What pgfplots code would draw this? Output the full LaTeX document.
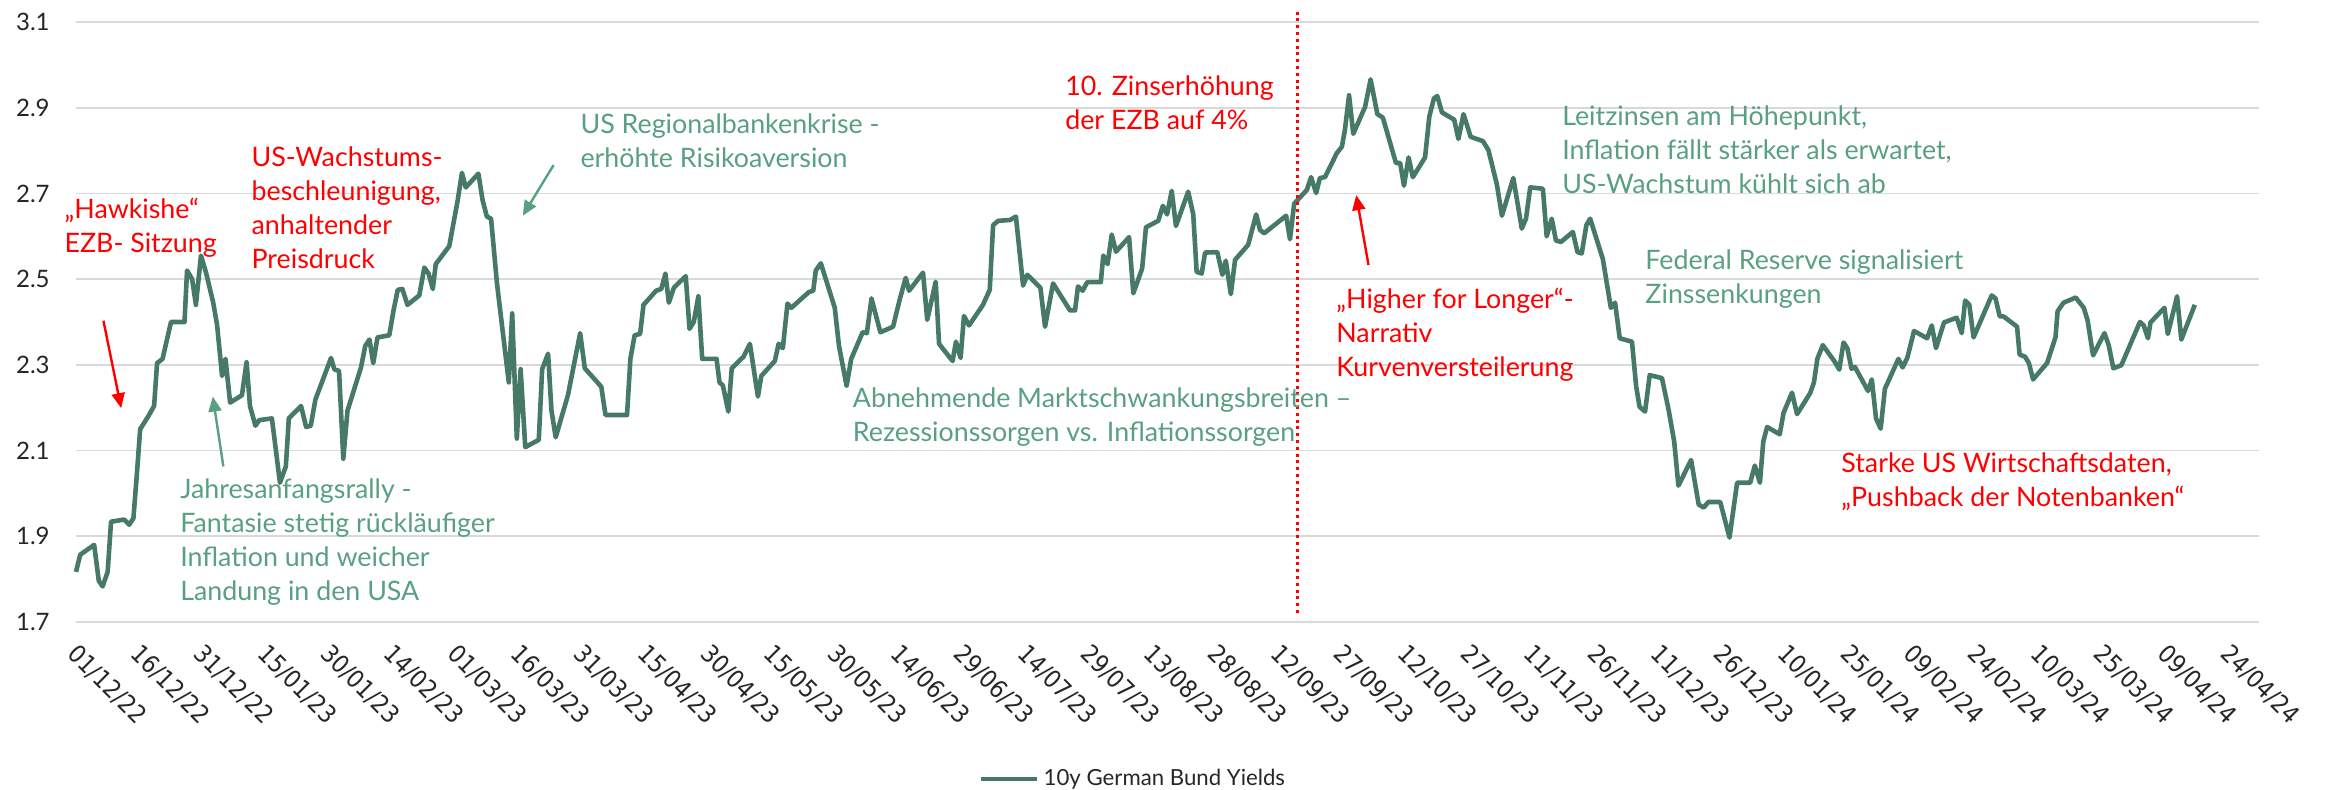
\documentclass[border=0pt]{standalone}
\usepackage{fontspec}
\setmainfont{Lato}
\newfontfamily\tickfont{DejaVu Sans Condensed}
\usepackage{pgfplots}
\pgfplotsset{compat=1.18}
\usetikzlibrary{arrows.meta}
\definecolor{linegreen}{RGB}{70,122,102}
\definecolor{anngreen}{RGB}{88,160,128}
\definecolor{annred}{RGB}{255,0,0}
\definecolor{gridgray}{RGB}{217,217,217}
\definecolor{labelgray}{RGB}{38,38,38}
\newcommand\annfont{\fontsize{13.4}{17}\selectfont}
\begin{document}
\begin{tikzpicture}
\path[use as bounding box] (-38pt,-84pt) rectangle (1127pt,311pt);
\begin{axis}[
  scale only axis, width=1091.5pt, height=300pt,
  xmin=0, xmax=517, ymin=1.7, ymax=3.1,
  clip=false,
  axis line style={draw=none},
  major tick length=0pt,
  ymajorgrids, major grid style={draw=gridgray, line width=0.8pt},
  ytick={1.7,1.9,2.1,2.3,2.5,2.7,2.9,3.1},
  /pgf/number format/assume math mode=true,
  yticklabel style={font=\fontsize{12}{14}\selectfont, text=labelgray, anchor=east, inner sep=0pt, xshift=-13pt,
    /pgf/number format/fixed, /pgf/number format/precision=1, /pgf/number format/fixed zerofill},
  xtick={0,15,...,510},
  xticklabels={01/12/22,16/12/22,31/12/22,15/01/23,30/01/23,14/02/23,01/03/23,16/03/23,31/03/23,15/04/23,30/04/23,15/05/23,30/05/23,14/06/23,29/06/23,14/07/23,29/07/23,13/08/23,28/08/23,12/09/23,27/09/23,12/10/23,27/10/23,11/11/23,26/11/23,11/12/23,26/12/23,10/01/24,25/01/24,09/02/24,24/02/24,10/03/24,25/03/24,09/04/24,24/04/24},
  xticklabel style={font=\tickfont\fontsize{12.3}{14}\selectfont, text=labelgray, inner sep=0pt, xshift=1.5pt, yshift=-10pt, rotate=-45, anchor=north west},
  legend style={at={(0.4847,-0.262)}, anchor=center, draw=none, fill=none, font=\fontsize{11.1}{13}\selectfont, text=labelgray},
  legend image code/.code={\draw[#1] (0pt,0pt) -- (28pt,0pt);},
]
\addplot[color=linegreen, line width=2.3pt, line join=round] coordinates {
(0,1.817) (1,1.857) (4.3,1.880) (5.4,1.796) (6.3,1.783) (7.5,1.817) (8.3,1.934) (11.4,1.939) (12.6,1.927) (13.6,1.942)
(14.4,2.043) (15.2,2.150) (17,2.178) (18.5,2.204) (19.2,2.304) (20.5,2.314) (22.5,2.400) (25.7,2.400) (26.3,2.520) (27.5,2.500)
(28.4,2.440) (29.6,2.555) (30.8,2.515) (32.5,2.445) (33.4,2.394) (34.6,2.274) (35.4,2.314) (36.5,2.212) (39.3,2.229) (40.4,2.306)
(41.2,2.204) (42.5,2.158) (43.4,2.171) (46.4,2.175) (48.3,2.025) (49.7,2.063) (50.4,2.175) (53.3,2.204) (54.5,2.155) (55.6,2.158)
(56.7,2.219) (60.4,2.316) (61.2,2.289) (62.3,2.286) (63.3,2.081) (64.3,2.193) (67.5,2.294) (68.5,2.344) (69.5,2.359) (70.4,2.304)
(71.4,2.364) (74.2,2.369) (75.2,2.427) (76.2,2.475) (77.3,2.477) (78.5,2.440) (81.3,2.462) (82.5,2.527) (83.5,2.513) (84.5,2.477)
(85.2,2.535) (88.4,2.577) (90.4,2.684) (91.4,2.748) (92.3,2.714) (95.3,2.746) (96.3,2.684) (97.3,2.646) (98.3,2.641)
(99.7,2.490) (102.5,2.259) (103.3,2.420) (104.4,2.128) (105.3,2.290) (106.4,2.108) (109.6,2.125) (110.4,2.290) (111.8,2.326)
(112.6,2.194) (113.6,2.131) (116.5,2.229) (119.4,2.374) (120.5,2.292) (124.4,2.249) (125.4,2.183) (130.5,2.183) (131.3,2.314)
(132.3,2.369) (133.6,2.372) (134.4,2.440) (137.4,2.473) (138.6,2.477) (139.6,2.513) (140.4,2.445) (141.6,2.480) (144.4,2.507)
(145.3,2.384) (146.3,2.400) (147.4,2.460) (148.3,2.314) (151.7,2.314) (152.4,2.259) (153.2,2.252) (154.5,2.191) (155.3,2.292)
(158.1,2.319) (159.6,2.349) (161.5,2.226) (162.3,2.274) (165.5,2.309) (166.4,2.349) (167.4,2.339) (168.5,2.443) (169.4,2.433)
(173.6,2.470) (174.6,2.473) (175.2,2.520) (176.4,2.537) (179.7,2.433) (180.7,2.344) (182.5,2.251) (183.6,2.314) (186.3,2.376)
(187.3,2.374) (188.4,2.455) (190.5,2.376) (193.5,2.389) (195.1,2.453) (196.5,2.503) (197.3,2.473) (200.6,2.515) (201.6,2.405)
(203.6,2.494) (204.4,2.349) (207.6,2.309) (208.4,2.354) (209.5,2.316) (210.3,2.414) (211.5,2.392) (214.8,2.440) (216.4,2.475)
(217.2,2.626) (218.4,2.636) (221.2,2.638) (222.6,2.646) (224.3,2.485) (225.3,2.510) (228.4,2.480) (229.5,2.389) (231.4,2.490)
(235.4,2.427) (236.6,2.427) (237.3,2.483) (238.4,2.473) (239.5,2.493) (242.7,2.493) (243.3,2.555) (244.3,2.535) (245.3,2.604)
(246.3,2.564) (249.4,2.598) (250.4,2.467) (251.6,2.500) (252.5,2.525) (253.4,2.621) (256.3,2.636) (257.4,2.671) (258.4,2.651)
(259.5,2.706) (260.5,2.624) (263.4,2.704) (264.6,2.651) (265.4,2.517) (266.6,2.513) (267.4,2.562) (270.3,2.563) (271.5,2.510)
(272.3,2.543) (273.5,2.465) (274.5,2.545) (277.6,2.580) (279.5,2.651) (280.4,2.615) (281.4,2.607) (286.6,2.648) (287.5,2.593)
(288.5,2.676) (291.5,2.708) (292.5,2.738) (293.7,2.701) (294.6,2.736) (295.8,2.738) (298.6,2.794) (299.8,2.809) (300.5,2.847)
(301.5,2.929) (302.5,2.839) (305.3,2.902) (306.6,2.966) (308.2,2.885) (309.5,2.877) (312.6,2.771) (313.6,2.771) (314.5,2.718)
(315.6,2.784) (316.6,2.738) (319.5,2.784) (320.5,2.879) (321.6,2.922) (322.4,2.927) (323.5,2.889) (326.4,2.872) (327.4,2.827)
(328.6,2.885) (330.3,2.832) (333.2,2.822) (334.5,2.801) (336.5,2.721) (337.7,2.648) (340.4,2.736) (342.4,2.618) (343.4,2.641)
(344.4,2.714) (347.4,2.711) (348.3,2.600) (349.5,2.641) (350.5,2.590) (351.7,2.587) (354.5,2.610) (355.6,2.563) (356.6,2.560)
(357.7,2.626) (358.6,2.641) (361.6,2.547) (363.5,2.433) (364.5,2.445) (365.6,2.362) (368.5,2.354) (369.5,2.249) (370.3,2.202)
(371.6,2.191) (372.7,2.276) (375.6,2.269) (377.2,2.194) (378.5,2.121) (379.5,2.018) (382.5,2.078) (384.3,1.974) (385.5,1.967)
(386.6,1.980) (389.4,1.980) (391.6,1.897) (393.4,2.025) (396.5,2.025) (397.6,2.065) (398.8,2.025) (399.6,2.121) (400.5,2.155)
(403.5,2.138) (404.4,2.188) (406.4,2.235) (407.6,2.185) (410.7,2.234) (411.6,2.259) (412.4,2.314) (413.7,2.346) (416.4,2.309)
(417.6,2.289) (418.6,2.352) (419.5,2.339) (420.5,2.291) (421.3,2.295) (424.4,2.239) (425.3,2.266) (426.3,2.175) (427.4,2.151)
(428.4,2.244) (431.6,2.314) (432.6,2.294) (433.7,2.316) (435.3,2.379) (438.4,2.362) (439.5,2.392) (440.5,2.339) (442.4,2.399)
(445.4,2.410) (446.6,2.374) (447.4,2.450) (448.4,2.440) (449.4,2.364) (453.7,2.462) (454.6,2.455) (455.6,2.413) (456.5,2.413)
(459.7,2.389) (460.3,2.324) (461.6,2.319) (462.5,2.304) (463.5,2.266) (466.8,2.304) (468.8,2.364) (469.3,2.425) (470.7,2.445)
(473.6,2.457) (475.5,2.433) (476.4,2.404) (477.7,2.322) (480.4,2.374) (481.4,2.346) (482.5,2.292) (484.4,2.299) (488.8,2.400)
(489.7,2.392) (490.7,2.362) (491.3,2.399) (494.6,2.433) (495.4,2.372) (497.6,2.460) (498.6,2.359) (501.8,2.440)
};
\addlegendentry{10y German Bund Yields}
\addplot[forget plot, color=annred, line width=1.5pt, dash pattern=on 1.5pt off 1.9pt] coordinates {(289.3,1.721) (289.3,3.130)};
% annotations
\node[anchor=west, align=left, inner sep=0pt, text=annred, font=\annfont] at (axis cs:-2.8,2.620) {„Hawkishe“\\EZB- Sitzung};
\node[anchor=west, align=left, inner sep=0pt, text=annred, font=\annfont] at (axis cs:41.5,2.667) {US-Wachstums-\\beschleunigung,\\anhaltender\\Preisdruck};
\node[anchor=west, align=left, inner sep=0pt, text=anngreen, font=\annfont] at (axis cs:24.6,1.887) {Jahresanfangsrally -\\Fantasie stetig rückläufiger\\Inflation und weicher\\Landung in den USA};
\node[anchor=west, align=left, inner sep=0pt, text=anngreen, font=\annfont] at (axis cs:119.4,2.823) {US Regionalbankenkrise -\\erhöhte Risikoaversion};
\node[anchor=west, align=left, inner sep=0pt, text=anngreen, font=\annfont] at (axis cs:183.9,2.178) {Abnehmende Marktschwankungsbreiten –\\Rezessionssorgen vs. Inflationssorgen};
\node[anchor=west, align=left, inner sep=0pt, text=annred, font=\annfont] at (axis cs:234.2,2.911) {10. Zinserhöhung\\der EZB auf 4\%};
\node[anchor=west, align=left, inner sep=0pt, text=annred, font=\annfont] at (axis cs:298.4,2.370) {„Higher for Longer“-\\Narrativ\\Kurvenversteilerung};
\node[anchor=west, align=left, inner sep=0pt, text=anngreen, font=\annfont] at (axis cs:351.9,2.801) {Leitzinsen am Höhepunkt,\\Inflation fällt stärker als erwartet,\\US-Wachstum kühlt sich ab};
\node[anchor=west, align=left, inner sep=0pt, text=anngreen, font=\annfont] at (axis cs:371.6,2.500) {Federal Reserve signalisiert\\Zinssenkungen};
\node[anchor=west, align=left, inner sep=0pt, text=annred, font=\annfont] at (axis cs:418,2.027) {Starke US Wirtschaftsdaten,\\„Pushback der Notenbanken“};
% arrows
\draw[annred, line width=1.2pt, -{Triangle[length=7.5pt,width=6.5pt]}] (axis cs:6.5,2.403) -- (axis cs:10.7,2.199);
\draw[anngreen, line width=1.2pt, -{Triangle[length=7.5pt,width=6.5pt]}] (axis cs:34.9,2.063) -- (axis cs:32.4,2.226);
\draw[anngreen, line width=1.2pt, -{Triangle[length=7.5pt,width=6.5pt]}] (axis cs:113.1,2.766) -- (axis cs:105.8,2.648);
\draw[annred, line width=1.2pt, -{Triangle[length=7.5pt,width=6.5pt]}] (axis cs:306.1,2.533) -- (axis cs:303.2,2.696);
\end{axis}
\end{tikzpicture}
\end{document}
